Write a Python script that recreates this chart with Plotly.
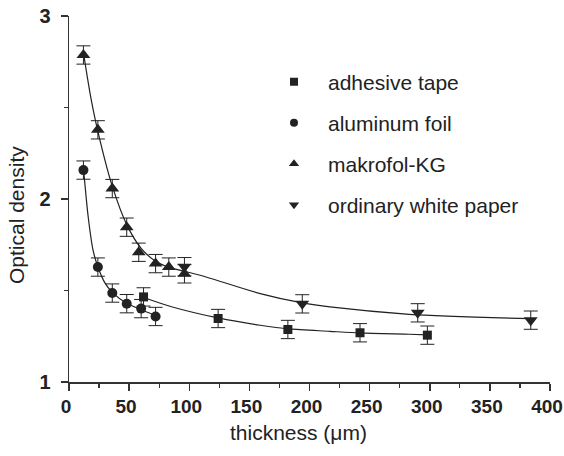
import plotly.graph_objects as go

# ---- data ----
tape_x = [62, 124, 182, 242, 298]
tape_y = [1.465, 1.347, 1.287, 1.269, 1.256]

foil_x = [12, 24, 36, 48, 60, 72]
foil_y = [2.158, 1.628, 1.486, 1.428, 1.401, 1.358]

makro_x = [12, 24, 36, 48, 58, 72, 83, 96]
makro_y = [2.787, 2.378, 2.057, 1.846, 1.709, 1.647, 1.628, 1.591]

paper_x = [96, 194, 290, 384]
paper_y = [1.630, 1.427, 1.378, 1.338]

err = 0.05

# fitted curves
fit_foil_x = [12, 16, 20, 24, 30, 36, 48, 60, 72]
fit_foil_y = [2.17, 1.90, 1.72, 1.63, 1.54, 1.49, 1.43, 1.395, 1.365]

fit_tape_x = [62, 86, 124, 159, 183, 217, 242, 283, 298]
fit_tape_y = [1.462, 1.41, 1.35, 1.31, 1.29, 1.277, 1.268, 1.261, 1.258]

fit_makro_x = [12, 18, 24, 36, 48, 60, 72, 84, 96]
fit_makro_y = [2.80, 2.56, 2.37, 2.07, 1.86, 1.73, 1.66, 1.625, 1.605]

fit_paper_x = [96, 114, 159, 194, 217, 283, 384]
fit_paper_y = [1.605, 1.574, 1.483, 1.432, 1.41, 1.37, 1.346]

series_names = ["adhesive tape", "aluminum foil", "makrofol-KG", "ordinary white paper"]

x_ticks = [0, 50, 100, 150, 200, 250, 300, 350, 400]
y_ticks = [1, 2, 3]

INK = "#222222"
FONT = "Liberation Sans, Arial, sans-serif"

fig = go.Figure()

# fit lines
for fx, fy in [(fit_foil_x, fit_foil_y), (fit_tape_x, fit_tape_y),
               (fit_makro_x, fit_makro_y), (fit_paper_x, fit_paper_y)]:
    fig.add_trace(go.Scatter(x=fx, y=fy, mode="lines", line=dict(color=INK, width=1.2, shape="spline", smoothing=0.8),
                             showlegend=False, hoverinfo="skip"))

marker_defs = [
    (tape_x, tape_y, "square", 9, 8, "legend"),
    (foil_x, foil_y, "circle", 10, 8, "legend2"),
    (makro_x, makro_y, "triangle-up", 12, 9, "legend3"),
    (paper_x, paper_y, "triangle-down", 12, 9, "legend4"),
]
for (xs, ys, sym, sz, lsz, lg), name in zip(marker_defs, series_names):
    fig.add_trace(go.Scatter(
        x=xs, y=ys, mode="markers", name=name, showlegend=False,
        marker=dict(symbol=sym, size=sz, color=INK, line=dict(width=0)),
        error_y=dict(type="constant", value=err, color=INK, thickness=1, width=7),
    ))
    # legend entry (smaller symbol, as in the reference key)
    fig.add_trace(go.Scatter(
        x=[None], y=[None], mode="markers", name=name, legend=lg, showlegend=True,
        marker=dict(symbol=sym, size=lsz, color=INK, line=dict(width=0)),
    ))

L, R, T, B = 69, 14, 16, 74
W, H = 564, 456
pw, ph = W - L - R, H - T - B

def px2paper_y(py):
    return (H - B - py) / ph

def px2paper_x(px):
    return (px - L) / pw

legend_rows = [82, 123, 164, 205]
leg_common = dict(font=dict(family=FONT, size=21, color=INK), bgcolor="rgba(0,0,0,0)",
                  xanchor="left", yanchor="middle", itemsizing="trace", itemwidth=58, borderwidth=0)
legends = {}
for key, row in zip(["legend", "legend2", "legend3", "legend4"], legend_rows):
    legends[key] = dict(leg_common, x=px2paper_x(260), y=px2paper_y(row))

fig.update_layout(
    width=W, height=H,
    margin=dict(l=L, r=R, t=T, b=B, autoexpand=False),
    paper_bgcolor="white", plot_bgcolor="white",
    font=dict(family=FONT, color=INK),
    showlegend=True,
    **legends,
    xaxis=dict(range=[0, 400], tickvals=x_ticks, showgrid=False, zeroline=False, automargin=False,
               showline=True, linecolor="#333333", linewidth=1.5,
               ticks="outside", ticklen=7, tickwidth=1.5, tickcolor="#333333",
               tickfont=dict(family=FONT, size=19, color=INK, weight="bold"),
               ticklabeloverflow="allow", ticklabelshift=-3,
               minor=dict(dtick=25, ticks="outside", ticklen=4, tickwidth=1.2, tickcolor="#333333"),
               fixedrange=True),
    yaxis=dict(range=[1, 3], tickvals=y_ticks, showgrid=False, zeroline=False, automargin=False,
               showline=True, linecolor="#333333", linewidth=1.5,
               ticks="outside", ticklen=7, tickwidth=1.5, tickcolor="#333333",
               tickfont=dict(family=FONT, size=20, color=INK, weight="bold"),
               ticklabelstandoff=6, ticklabeloverflow="allow",
               minor=dict(dtick=0.5, ticks="outside", ticklen=4, tickwidth=1.2, tickcolor="#333333"),
               fixedrange=True),
    annotations=[
        dict(text="thickness (\u03bcm)", xref="paper", yref="paper",
             x=px2paper_x(298), y=px2paper_y(432), xanchor="center", yanchor="middle",
             showarrow=False, font=dict(family=FONT, size=21, color=INK)),
        dict(text="Optical density", xref="paper", yref="paper", textangle=-90,
             x=px2paper_x(16), y=px2paper_y(215), xanchor="center", yanchor="middle",
             showarrow=False, font=dict(family=FONT, size=21, color=INK)),
    ],
)

fig.write_html("out.html", config={"displayModeBar": False, "staticPlot": True},
               post_script="document.body.style.margin='0';document.body.style.overflow='hidden';")
